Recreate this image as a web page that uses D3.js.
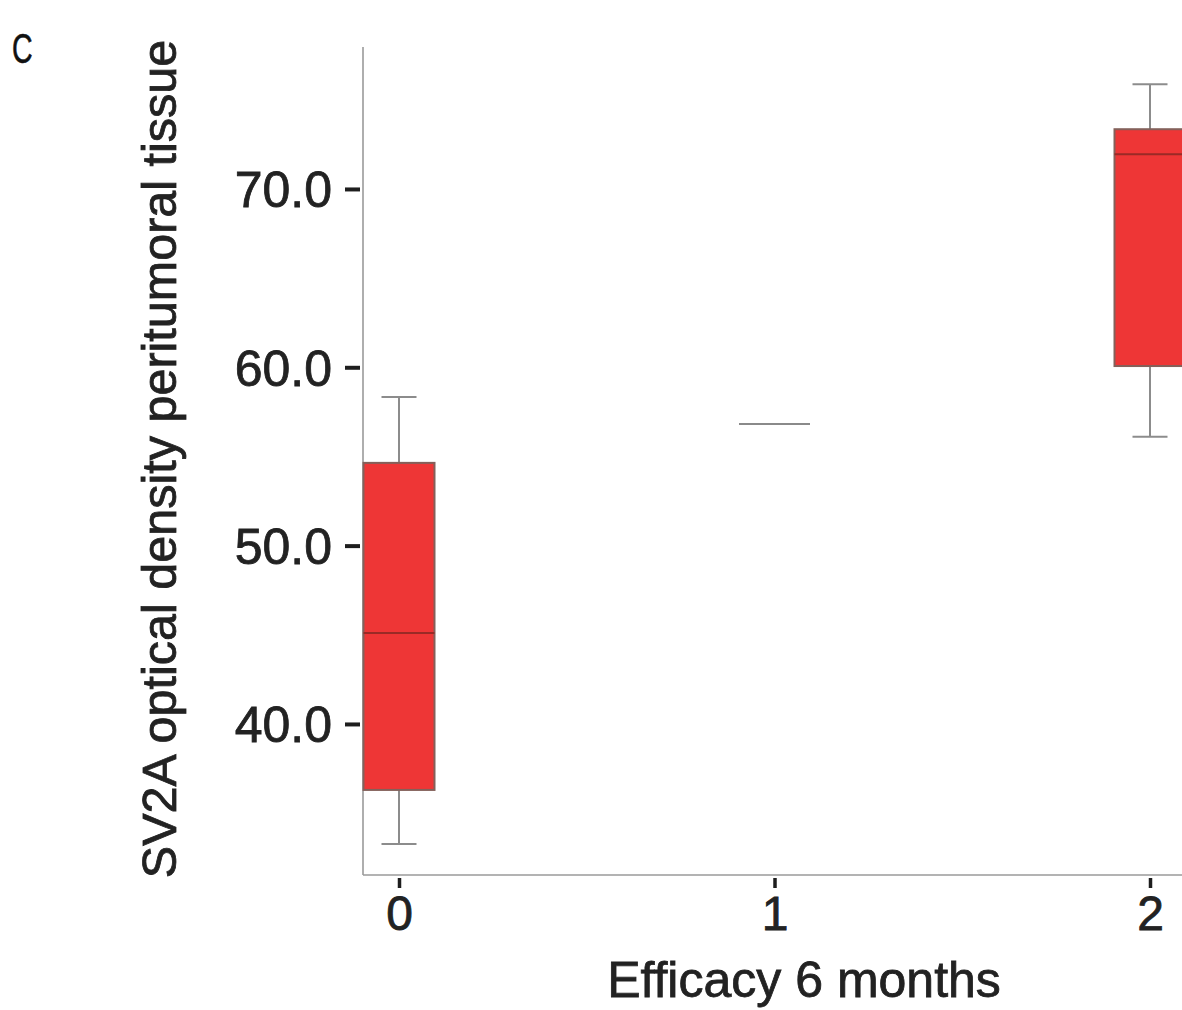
<!DOCTYPE html>
<html>
<head>
<meta charset="utf-8">
<script src="https://cdn.jsdelivr.net/npm/d3@7"></script>
<style>
  html, body { margin: 0; padding: 0; background: #ffffff; }
  svg { display: block; }
</style>
</head>
<body>
<svg id="chart" width="1182" height="1010"></svg>
<script>
// ---- data ----
const categories = ["0", "1", "2"];
const whiskerLow  = [33.27, 56.82, 56.11];
const quartile1   = [36.30, 56.82, 60.07];
const medians     = [45.10, 56.82, 71.95];
const quartile3   = [54.64, 56.82, 73.35];
const whiskerHigh = [58.34, 56.82, 75.87];
const yTicks = [40, 50, 60, 70];
const xTitle = "Efficacy 6 months";
const yTitle = "SV2A optical density peritumoral tissue";
const panelLabel = "C";

const boxes = categories.map((c, i) => ({
  cat: c, lo: whiskerLow[i], q1: quartile1[i], med: medians[i], q3: quartile3[i], hi: whiskerHigh[i]
}));

const svg = d3.select("#chart");
const font = "'Liberation Sans', Arial, sans-serif";
const ink = "#222";

const x = d3.scalePoint().domain(categories).range([399, 1150]);
const y = d3.scaleLinear().domain([31.53, 77.96]).range([875, 47]);
const boxW = 71, capW = 35;

// axes lines
svg.append("line").attr("x1", 363).attr("x2", 363).attr("y1", y.range()[1]).attr("y2", y.range()[0])
  .attr("stroke", "#9a9a9a").attr("stroke-width", 1.6);
svg.append("line").attr("x1", 363).attr("x2", 1182).attr("y1", 875).attr("y2", 875)
  .attr("stroke", "#9a9a9a").attr("stroke-width", 1.6);

// y axis ticks + labels
const yAxis = d3.axisLeft(y).tickValues(yTicks).tickFormat(d3.format(".1f")).tickSize(0).tickPadding(0);
const gy = svg.append("g").attr("transform", "translate(363,0)").call(yAxis);
gy.select(".domain").remove();
gy.selectAll(".tick").append("line")
  .attr("x1", -18).attr("x2", -3).attr("y1", 0).attr("y2", 0)
  .attr("stroke", "#1e1e1e").attr("stroke-width", 4);
gy.selectAll(".tick text")
  .attr("x", -31).attr("dy", "0.36em")
  .attr("font-family", font).attr("font-size", 50).attr("fill", ink)
  .attr("stroke", ink).attr("stroke-width", 0.8);

// x axis ticks + labels
const xAxis = d3.axisBottom(x).tickSize(0).tickPadding(0);
const gx = svg.append("g").attr("transform", "translate(0,875)").call(xAxis);
gx.select(".domain").remove();
gx.selectAll(".tick").append("line")
  .attr("x1", 0).attr("x2", 0).attr("y1", 3).attr("y2", 13)
  .attr("stroke", "#1e1e1e").attr("stroke-width", 3.5);
gx.selectAll(".tick text")
  .attr("y", 55).attr("dy", 0)
  .attr("font-family", font).attr("font-size", 48).attr("fill", ink)
  .attr("stroke", ink).attr("stroke-width", 0.8);

// boxes
const g = svg.append("g");
const b = g.selectAll("g.box").data(boxes).join("g").attr("class", "box");
// whiskers
b.append("line")
  .attr("x1", d => x(d.cat)).attr("x2", d => x(d.cat))
  .attr("y1", d => y(d.hi)).attr("y2", d => y(d.q3))
  .attr("stroke", "#8c8c8c").attr("stroke-width", 2);
b.append("line")
  .attr("x1", d => x(d.cat)).attr("x2", d => x(d.cat))
  .attr("y1", d => y(d.q1)).attr("y2", d => y(d.lo))
  .attr("stroke", "#8c8c8c").attr("stroke-width", 2);
b.filter(d => d.hi > d.q3).append("line")
  .attr("x1", d => x(d.cat) - capW / 2).attr("x2", d => x(d.cat) + capW / 2)
  .attr("y1", d => y(d.hi)).attr("y2", d => y(d.hi))
  .attr("stroke", "#8c8c8c").attr("stroke-width", 2);
b.filter(d => d.lo < d.q1).append("line")
  .attr("x1", d => x(d.cat) - capW / 2).attr("x2", d => x(d.cat) + capW / 2)
  .attr("y1", d => y(d.lo)).attr("y2", d => y(d.lo))
  .attr("stroke", "#8c8c8c").attr("stroke-width", 2);
// box
b.append("rect")
  .attr("x", d => x(d.cat) - boxW / 2).attr("width", boxW)
  .attr("y", d => y(d.q3)).attr("height", d => y(d.q1) - y(d.q3))
  .attr("fill", "#ee3636").attr("stroke", "#84605a").attr("stroke-width", 2);
// median
b.append("line")
  .attr("x1", d => x(d.cat) - boxW / 2).attr("x2", d => x(d.cat) + boxW / 2)
  .attr("y1", d => y(d.med)).attr("y2", d => y(d.med))
  .attr("stroke", d => d.q3 > d.q1 ? "#9a2a26" : "#8a8a8a").attr("stroke-width", 2);

// titles
svg.append("text").attr("x", 804).attr("y", 997).attr("text-anchor", "middle")
  .attr("font-family", font).attr("font-size", 50).attr("fill", ink)
  .attr("stroke", ink).attr("stroke-width", 0.8).text(xTitle);
svg.append("text").attr("transform", "translate(176,459) rotate(-90)").attr("text-anchor", "middle")
  .attr("font-family", font).attr("font-size", 48.5).attr("fill", ink)
  .attr("stroke", ink).attr("stroke-width", 0.8).text(yTitle);

// panel label
svg.append("text").attr("transform", "translate(12,63) scale(0.68,1)")
  .attr("font-family", "'Liberation Sans Narrow', 'Liberation Sans', sans-serif").attr("font-size", 42)
  .attr("fill", "#111").attr("stroke", "#111").attr("stroke-width", 0.6).text(panelLabel);
</script>
</body>
</html>
